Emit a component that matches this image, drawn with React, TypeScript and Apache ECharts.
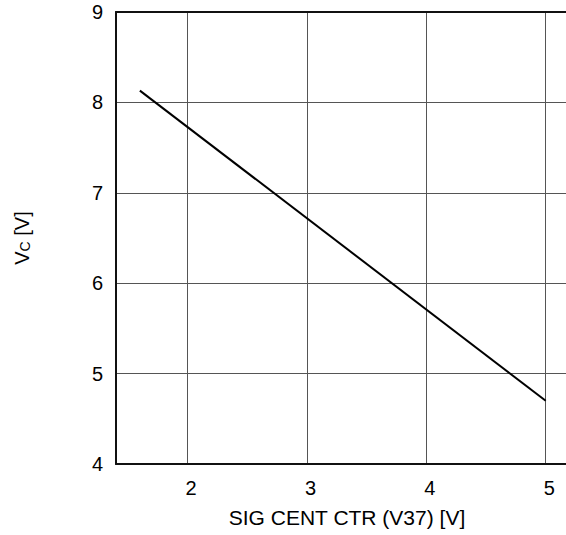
import React, { useEffect, useRef } from "react";
import * as echarts from "echarts";

const xValues = [1.6, 5.0];
const vcValues = [8.13, 4.7];
const xMin = 1.4;
const xMax = 5.17;
const yMin = 4;
const yMax = 9;

const FONT = "'Liberation Sans', Arial, sans-serif";

export default function App() {
  const ref = useRef<HTMLDivElement>(null);
  useEffect(() => {
    if (!ref.current) return;
    const chart = echarts.init(ref.current, undefined, { renderer: "svg" });
    const data = xValues.map((x, i) => [x, vcValues[i]]);
    chart.setOption({
      animation: false,
      backgroundColor: "#ffffff",
      grid: { left: 116, right: 0, top: 12, bottom: 71, containLabel: false },
      xAxis: [
        {
          type: "value",
          min: xMin,
          max: xMax,
          splitNumber: 4,
          name: "SIG CENT CTR (V37) [V]",
          nameLocation: "middle",
          nameGap: 43,
          nameTextStyle: { fontFamily: FONT, fontSize: 21, color: "#000", padding: [0, 0, 0, 12] },
          axisLine: { show: true, lineStyle: { color: "#111", width: 2 } },
          axisTick: { show: false },
          axisLabel: {
            show: true,
            fontFamily: FONT,
            fontSize: 20,
            color: "#000",
            margin: 14,
            padding: [0, 0, 0, 7],
            showMinLabel: false,
            showMaxLabel: false,
            formatter: (v: number) => (Math.abs(v - Math.round(v)) < 1e-6 ? String(Math.round(v)) : ""),
          },
          splitLine: { show: true, lineStyle: { color: "#555", width: 1 } },
        },
        {
          type: "value",
          position: "top",
          min: xMin,
          max: xMax,
          axisLine: { show: true, lineStyle: { color: "#111", width: 2 } },
          axisTick: { show: false },
          axisLabel: { show: false },
          splitLine: { show: false },
        },
      ],
      yAxis: {
        type: "value",
        min: yMin,
        max: yMax,
        interval: 1,
        name: "{a|V}{b|C} [V]",
        nameLocation: "middle",
        nameGap: 84,
        nameTextStyle: {
          fontFamily: FONT,
          fontSize: 20,
          color: "#000",
          rich: {
            a: { fontFamily: FONT, fontSize: 20, color: "#000" },
            b: { fontFamily: FONT, fontSize: 14, color: "#000", verticalAlign: "bottom" },
          },
        },
        axisLine: { show: true, lineStyle: { color: "#111", width: 2 } },
        axisTick: { show: false },
        axisLabel: { fontFamily: FONT, fontSize: 20, color: "#000", margin: 13 },
        splitLine: { show: true, lineStyle: { color: "#555", width: 1 } },
      },
      series: [
        {
          type: "line",
          data,
          showSymbol: false,
          symbol: "none",
          lineStyle: { color: "#000", width: 2 },
          xAxisIndex: 0,
        },
      ],
    });
    return () => chart.dispose();
  }, []);
  return (
    <div
      ref={ref}
      style={{ position: "absolute", left: 0, top: 0, width: 566, height: 535 }}
    />
  );
}
